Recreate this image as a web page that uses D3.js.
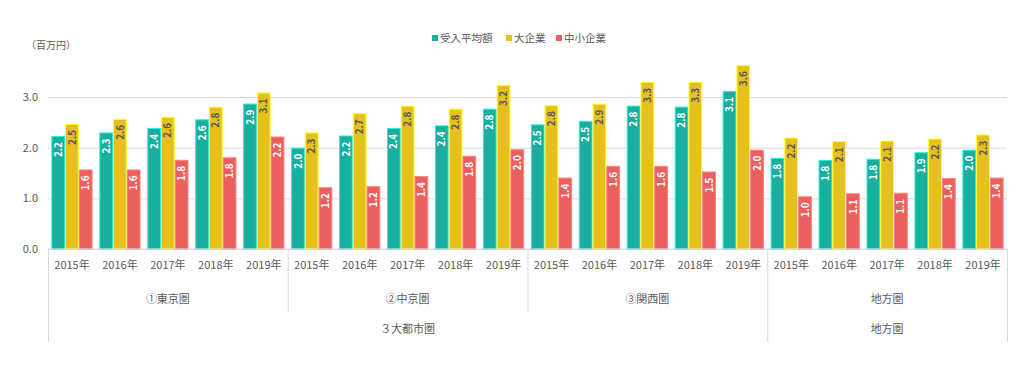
<!DOCTYPE html>
<html><head><meta charset="utf-8">
<script src="https://cdn.jsdelivr.net/npm/d3@7"></script>
<style>
body{margin:0;background:#fff;}
text{font-family:"Noto Sans CJK JP","Noto Sans",sans-serif;}
</style></head>
<body><svg id="c" width="1034" height="371"></svg>
<script>
const years = ["2015年","2016年","2017年","2018年","2019年"];
const regions = ["①東京圏","②中京圏","③関西圏","地方圏"];
const superGroups = [{name:"３大都市圏", span:3},{name:"地方圏", span:1}];
const seriesNames = ["受入平均額","大企業","中小企業"];
const colors = ["#1aae9f","#e6bf21","#ec5f5f"];
const labelColors = ["#ffffff","#595959","#ffffff"];
// values per region (5 years each)
const avgValues = [2.23,2.30,2.39,2.56,2.87, 2.00,2.24,2.39,2.44,2.77, 2.46,2.53,2.83,2.81,3.12, 1.80,1.76,1.78,1.91,1.96];
const largeValues = [2.47,2.57,2.61,2.81,3.09, 2.30,2.68,2.83,2.77,3.24, 2.84,2.87,3.30,3.30,3.63, 2.20,2.13,2.14,2.18,2.26];
const smallValues = [1.57,1.57,1.76,1.81,2.22, 1.22,1.24,1.44,1.84,1.97, 1.41,1.64,1.64,1.53,1.96, 1.04,1.10,1.11,1.40,1.41];
const yTicks = [0,1,2,3];

const svg = d3.select("#c");
const left = 48, right = 1007, base = 249, top3 = 97;
const cats = [];
regions.forEach((r,ri)=>years.forEach((y,yi)=>cats.push({id:ri*5+yi, region:r, year:y})));
const x0 = d3.scaleBand().domain(cats.map(c=>c.id)).range([left,right]).paddingInner(0.14).paddingOuter(0.07);
const x1 = d3.scaleBand().domain(seriesNames).range([0,x0.bandwidth()]);
const y = d3.scaleLinear().domain([0,3]).range([base,top3]);
const step = x0.step();
const edge = i => left + i*step;

// grid + y labels
const ya = svg.append("g").attr("transform",`translate(${left},0)`)
  .call(d3.axisLeft(y).tickValues(yTicks).tickFormat(d3.format(".1f")).tickSize(-(right-left)).tickPadding(10));
ya.select(".domain").remove();
ya.selectAll(".tick line").attr("stroke","#d9d9d9").attr("stroke-width",1);
ya.selectAll(".tick text").attr("fill","#595959").attr("font-size","11px").attr("font-family","'Noto Sans CJK JP','Noto Sans',sans-serif");

const allVals = [avgValues,largeValues,smallValues];
const data = [];
cats.forEach(c=>seriesNames.forEach((s,si)=>data.push({c:c.id, s, si, v:allVals[si][c.id]})));

const g = svg.append("g");
g.selectAll("rect").data(data).enter().append("rect")
  .attr("x",d=>x0(d.c)+x1(d.s)+0.5)
  .attr("y",d=>y(d.v)+0.5)
  .attr("width",x1.bandwidth()-1)
  .attr("height",d=>base-y(d.v)-0.5)
  .attr("fill",d=>colors[d.si])
  .attr("stroke",d=>d3.color(colors[d.si]).brighter(0.9))
  .attr("stroke-width",1);

g.selectAll("text.lbl").data(data).enter().append("text").attr("class","lbl")
  .attr("transform",d=>`translate(${x0(d.c)+x1(d.s)+x1.bandwidth()/2},${y(d.v)+6}) rotate(-90)`)
  .attr("text-anchor","end").attr("dy","0.36em")
  .attr("font-size","10px").attr("font-weight","bold")
  .attr("fill",d=>labelColors[d.si])
  .text(d=>d.v.toFixed(1));

// baseline
svg.append("line").attr("x1",left).attr("x2",right).attr("y1",base).attr("y2",base).attr("stroke","#d9d9d9");

// x axis years
const xa = svg.append("g").attr("transform",`translate(0,${base})`)
  .call(d3.axisBottom(x0).tickSize(0).tickPadding(12).tickFormat(i=>cats[i].year));
xa.select(".domain").remove();
xa.selectAll(".tick text").attr("fill","#595959").attr("font-size","11px").attr("font-family","'Noto Sans CJK JP','Noto Sans',sans-serif");

// region labels + separators
const sep = svg.append("g").attr("stroke","#d9d9d9").attr("stroke-width",1);
regions.forEach((r,ri)=>{
  svg.append("text").attr("x",(edge(ri*5)+edge(ri*5+5))/2).attr("y",303)
    .attr("text-anchor","middle").attr("font-size","11px").attr("fill","#595959").text(r);
});
let acc = 0;
const superEdges = [0];
superGroups.forEach(sg=>{
  svg.append("text").attr("x",(edge(acc*5)+edge((acc+sg.span)*5))/2).attr("y",333)
    .attr("text-anchor","middle").attr("font-size","11px").attr("fill","#595959").text(sg.name);
  acc += sg.span; superEdges.push(acc);
});
for(let i=0;i<=regions.length;i++){
  const full = superEdges.includes(i);
  sep.append("line").attr("x1",edge(i*5)+0.5).attr("x2",edge(i*5)+0.5).attr("y1",base).attr("y2",full?342:312);
}

// unit
svg.append("text").attr("x",26).attr("y",49).attr("font-size","10px").attr("fill","#595959").text("（百万円）");

// legend
const legX = [432,506,556];
seriesNames.forEach((s,i)=>{
  const lg = svg.append("g").attr("transform",`translate(${legX[i]},38)`);
  lg.append("rect").attr("x",0).attr("y",-3).attr("width",6).attr("height",6).attr("fill",colors[i]);
  lg.append("text").attr("x",8).attr("y",0).attr("dy","0.35em").attr("font-size","10.5px").attr("fill","#595959").text(s);
});
</script></body></html>
